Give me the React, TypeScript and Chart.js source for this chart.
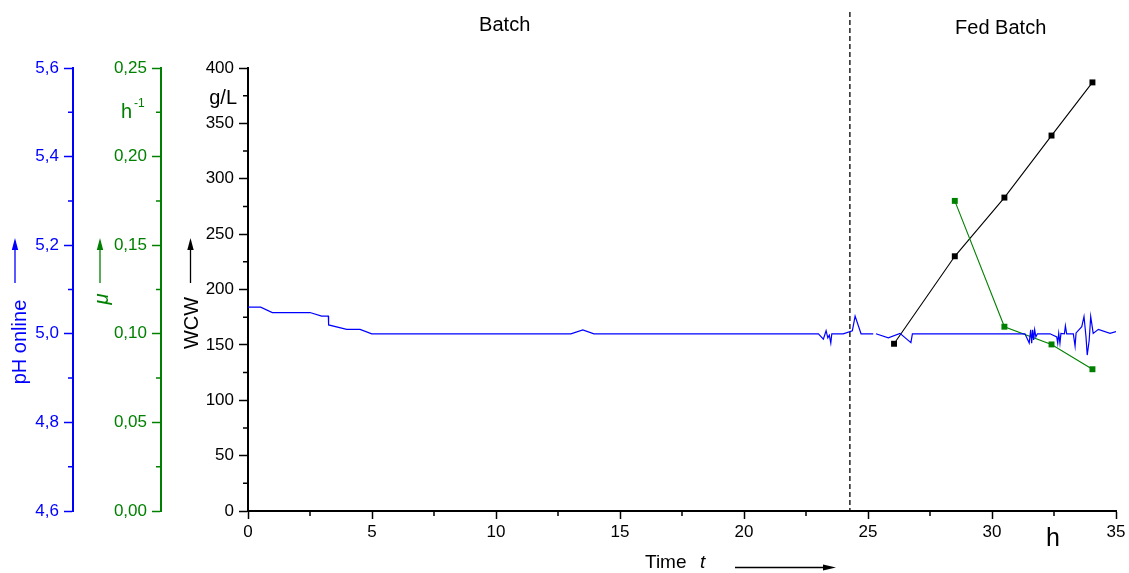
import React, { useEffect, useRef } from "react";
import { Chart, registerables } from "chart.js";

Chart.register(...registerables);

const FONT = '"Liberation Sans", Arial, Helvetica, sans-serif';
const BLUE = "#0000ff";
const GREEN = "#008000";
const BLACK = "#000000";
const TICK_SIZE = 17;

// Online pH trace: time (h) and pH; null marks a short logging gap
const phTime = [
  0, 0.51, 0.98, 2.5, 2.97, 3.24, 3.25, 3.98, 4.52, 4.99,
  13.02, 13.5, 13.95,
  23.0, 23.2, 23.31, 23.38, 23.44, 23.5, 23.54,
  24.0, 24.37, 24.48, 24.72, 25.21, 25.26,
  25.32, 25.82, 26.29, 26.73, 26.79,
  31.33, 31.5, 31.56, 31.6, 31.64, 31.68, 31.72, 31.77, 31.83,
  32.34, 32.61, 32.65, 32.69, 32.74, 32.78, 32.92, 32.96, 33.01,
  33.28, 33.35, 33.39, 33.62, 33.71, 33.79, 33.84, 33.92, 33.98,
  34.08, 34.29, 34.76, 35.0,
];
const phValue = [
  5.06, 5.06, 5.048, 5.048, 5.04, 5.04, 5.02, 5.01, 5.01, 5.0,
  5.0, 5.009, 5.0,
  5.0, 4.988, 5.007, 4.991, 4.997, 4.979, 5.0,
  5.0, 5.007, 5.04, 5.0, 5.0, null,
  5.0, 4.991, 5.001, 4.98, 5.0,
  5.0, 4.979, 5.009, 4.979, 5.009, 4.986, 5.009, 4.993, 5.0,
  5.0, 4.993, 4.979, 5.001, 4.979, 5.001, 5.0, 5.018, 5.0,
  5.0, 4.972, 5.002, 5.016, 5.039, 4.993, 4.952, 4.986, 5.039,
  5.001, 5.01, 5.001, 5.005,
];

// Wet cell weight samples (g/L)
const wcwTime = [26.05, 28.5, 30.5, 32.4, 34.05];
const wcwValue = [151, 230, 283, 339, 387];

// Specific growth rate (1/h)
const muTime = [28.5, 30.5, 32.4, 34.05];
const muValue = [0.175, 0.104, 0.094, 0.08];

// Switch from batch to fed-batch operation (h)
const feedStart = 24.27;

// Phase captions and the time at which each is centred
const phaseLabels = ["Batch", "Fed Batch"];
const phaseLabelTime = [10.35, 30.35];

// Unlabelled minor ticks
const timeMinor = [2.5, 7.5, 12.5, 17.5, 22.5, 27.5, 32.5];
const wcwMinor = [25, 75, 125, 175, 225, 275, 325, 375];
const muMinor = [0.025, 0.075, 0.125, 0.175, 0.225];
const phMinor = [4.7, 4.9, 5.1, 5.3, 5.5];

const pairs = (xs: number[], ys: (number | null)[]) =>
  xs.map((x, i) => ({ x, y: ys[i] }));

function drawText(
  ctx: CanvasRenderingContext2D,
  str: string,
  x: number,
  y: number,
  font: string,
  color: string,
  align: CanvasTextAlign = "left",
  baseline: CanvasTextBaseline = "alphabetic",
  rotate = 0
) {
  ctx.save();
  ctx.translate(x, y);
  if (rotate) ctx.rotate(rotate);
  ctx.font = font;
  ctx.fillStyle = color;
  ctx.textAlign = align;
  ctx.textBaseline = baseline;
  ctx.fillText(str, 0, 0);
  ctx.restore();
}

function arrowUp(ctx: CanvasRenderingContext2D, x: number, yTip: number, yTail: number, color: string) {
  ctx.save();
  ctx.strokeStyle = color;
  ctx.fillStyle = color;
  ctx.lineWidth = 1.3;
  ctx.beginPath();
  ctx.moveTo(x, yTail);
  ctx.lineTo(x, yTip + 8);
  ctx.stroke();
  ctx.beginPath();
  ctx.moveTo(x, yTip);
  ctx.lineTo(x - 3.2, yTip + 12);
  ctx.lineTo(x + 3.2, yTip + 12);
  ctx.closePath();
  ctx.fill();
  ctx.restore();
}

function arrowRight(ctx: CanvasRenderingContext2D, xTail: number, xTip: number, y: number, color: string) {
  ctx.save();
  ctx.strokeStyle = color;
  ctx.fillStyle = color;
  ctx.lineWidth = 1.3;
  ctx.beginPath();
  ctx.moveTo(xTail, y);
  ctx.lineTo(xTip - 8, y);
  ctx.stroke();
  ctx.beginPath();
  ctx.moveTo(xTip, y);
  ctx.lineTo(xTip - 13, y - 3);
  ctx.lineTo(xTip - 13, y + 3);
  ctx.closePath();
  ctx.fill();
  ctx.restore();
}

const decorations = {
  id: "decorations",
  beforeDatasetsDraw(chart: any) {
    const { ctx, chartArea } = chart;
    const x = chart.scales.x;
    const px = x.getPixelForValue(feedStart);
    ctx.save();
    ctx.strokeStyle = BLACK;
    ctx.lineWidth = 1.3;
    ctx.setLineDash([5, 3]);
    ctx.beginPath();
    ctx.moveTo(px, 12);
    ctx.lineTo(px, chartArea.bottom);
    ctx.stroke();
    ctx.restore();
  },
  afterDraw(chart: any) {
    const { ctx } = chart;
    const { x, yW, yMu, yPH } = chart.scales;

    // minor ticks
    ctx.save();
    ctx.lineWidth = 1.5;
    ctx.strokeStyle = BLACK;
    ctx.beginPath();
    timeMinor.forEach((v) => {
      const p = x.getPixelForValue(v);
      ctx.moveTo(p, x.top);
      ctx.lineTo(p, x.top + 5);
    });
    ctx.stroke();
    const leftMinor = (s: any, vals: number[], color: string) => {
      ctx.strokeStyle = color;
      ctx.beginPath();
      vals.forEach((v) => {
        const p = s.getPixelForValue(v);
        ctx.moveTo(s.right - 5, p);
        ctx.lineTo(s.right, p);
      });
      ctx.stroke();
    };
    leftMinor(yW, wcwMinor, BLACK);
    leftMinor(yMu, muMinor, GREEN);
    leftMinor(yPH, phMinor, BLUE);
    ctx.restore();

    // phase captions
    drawText(ctx, phaseLabels[0], x.getPixelForValue(phaseLabelTime[0]), 30.5, `20px ${FONT}`, BLACK, "center");
    drawText(ctx, phaseLabels[1], x.getPixelForValue(phaseLabelTime[1]), 34, `20px ${FONT}`, BLACK, "center");

    // units
    drawText(ctx, "g/L", 237, 104, `20px ${FONT}`, BLACK, "right");
    drawText(ctx, "h", 121, 118, `20px ${FONT}`, GREEN, "left");
    drawText(ctx, "-1", 134, 107, `12px ${FONT}`, GREEN, "left");
    drawText(ctx, "h", 1046, 546, `25px ${FONT}`, BLACK, "left");

    // rotated axis titles with arrows
    const up = -Math.PI / 2;
    drawText(ctx, "pH online", 20, 342, `20px ${FONT}`, BLUE, "center", "middle", up);
    arrowUp(ctx, 15, 238, 283, BLUE);
    drawText(ctx, "\u03bc", 102, 299, `italic 20px ${FONT}`, GREEN, "center", "middle", up);
    arrowUp(ctx, 100, 238, 283, GREEN);
    drawText(ctx, "WCW", 192, 323, `20px ${FONT}`, BLACK, "center", "middle", up);
    arrowUp(ctx, 190.5, 238, 283, BLACK);

    // time axis title
    drawText(ctx, "Time", 645, 568, `19px ${FONT}`, BLACK, "left");
    drawText(ctx, "t", 700, 568, `italic 19px ${FONT}`, BLACK, "left");
    arrowRight(ctx, 735, 836, 567.5, BLACK);
  },
};

const leftAxis = (
  color: string,
  width: number,
  weight: number,
  min: number,
  max: number,
  step: number,
  fmt: (v: number) => string
) => ({
  type: "linear",
  position: "left",
  weight,
  min,
  max,
  afterFit: (s: any) => {
    s.width = width;
  },
  border: { display: true, color, width: 2 },
  grid: { drawOnChartArea: false, drawTicks: true, tickLength: 9, tickColor: color, tickWidth: 1.5 },
  ticks: {
    stepSize: step,
    color,
    padding: 5,
    autoSkip: false,
    font: { family: FONT, size: TICK_SIZE },
    callback: (v: any) => fmt(Number(v)),
  },
});

export default function App() {
  const ref = useRef<HTMLCanvasElement>(null);

  useEffect(() => {
    const canvas = ref.current;
    if (!canvas) return;
    const chart = new Chart(canvas, {
      type: "line",
      data: {
        datasets: [
          {
            label: "pH online",
            data: pairs(phTime, phValue),
            yAxisID: "yPH",
            borderColor: BLUE,
            borderWidth: 1.2,
            pointRadius: 0,
            spanGaps: false,
            tension: 0,
          },
          {
            label: "μ",
            data: pairs(muTime, muValue),
            yAxisID: "yMu",
            borderColor: GREEN,
            backgroundColor: GREEN,
            borderWidth: 1.1,
            pointStyle: "rect",
            pointRadius: 4.2,
            pointBorderWidth: 0,
            tension: 0,
          },
          {
            label: "WCW",
            data: pairs(wcwTime, wcwValue),
            yAxisID: "yW",
            borderColor: BLACK,
            backgroundColor: BLACK,
            borderWidth: 1.1,
            pointStyle: "rect",
            pointRadius: 4.2,
            pointBorderWidth: 0,
            tension: 0,
          },
        ],
      },
      options: {
        responsive: false,
        animation: false,
        events: [],
        layout: { padding: { top: 68, right: 13, left: 0, bottom: 0 } },
        plugins: { legend: { display: false }, tooltip: { enabled: false } },
        scales: {
          x: {
            type: "linear",
            position: "bottom",
            min: 0,
            max: 35,
            afterFit: (s: any) => {
              s.height = 62;
            },
            border: { display: true, color: BLACK, width: 2 },
            grid: { drawOnChartArea: false, tickLength: 8, tickColor: BLACK, tickWidth: 1.5 },
            ticks: {
              stepSize: 5,
              color: BLACK,
              padding: 3,
              maxRotation: 0,
              autoSkip: false,
              font: { family: FONT, size: TICK_SIZE },
            },
          },
          yW: leftAxis(BLACK, 87, 0, 0, 400, 50, (v) => String(v)),
          yMu: leftAxis(GREEN, 88, 1, 0, 0.25, 0.05, (v) => v.toFixed(2).replace(".", ",")),
          yPH: leftAxis(BLUE, 73, 2, 4.6, 5.6, 0.2, (v) => v.toFixed(1).replace(".", ",")),
        } as any,
      },
      plugins: [decorations],
    } as any);
    return () => chart.destroy();
  }, []);

  return (
    <div style={{ position: "fixed", left: 0, top: 0, width: 1129, height: 573, background: "#ffffff" }}>
      <canvas ref={ref} width={1129} height={573} style={{ display: "block", width: 1129, height: 573 }} />
    </div>
  );
}
